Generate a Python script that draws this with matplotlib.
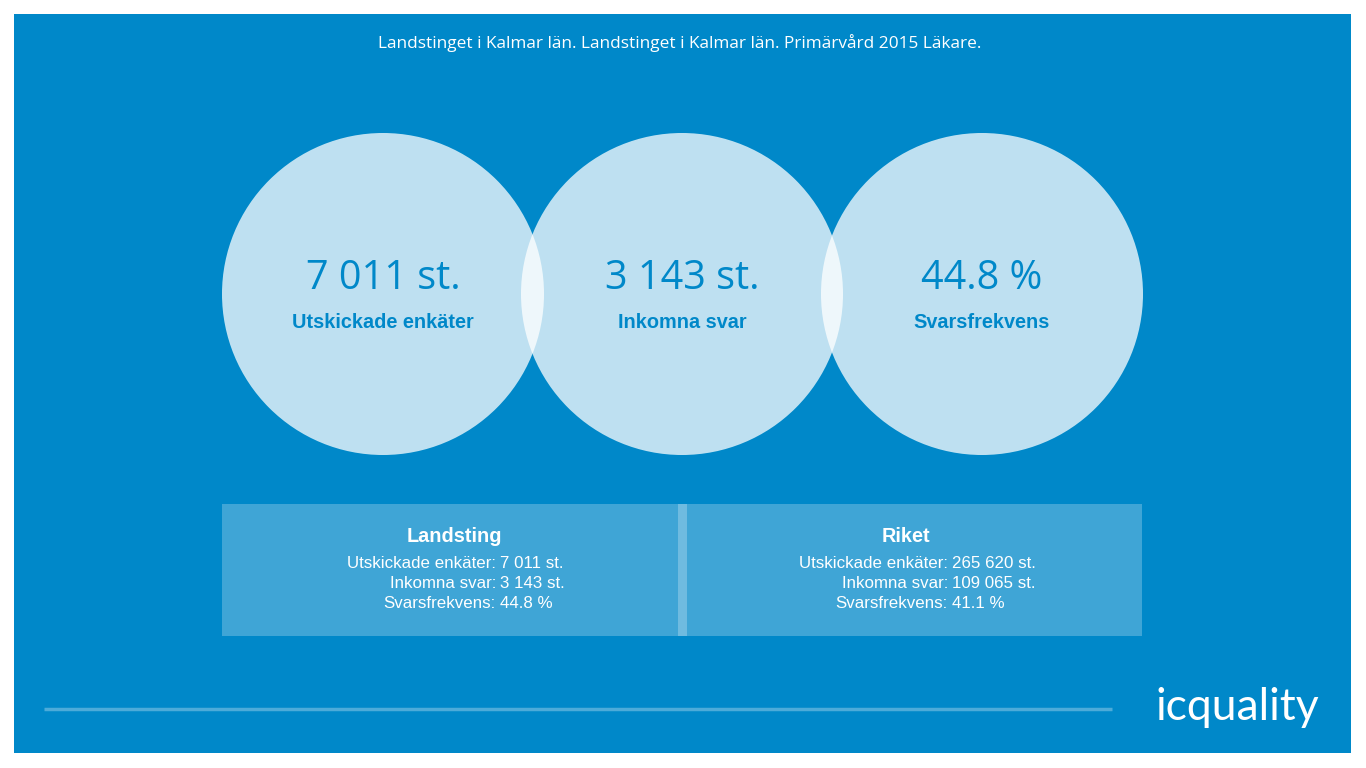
import matplotlib
matplotlib.use("Agg")
import matplotlib.pyplot as plt
from matplotlib.patches import Circle, Rectangle

title = "Landstinget i Kalmar län. Landstinget i Kalmar län. Primärvård 2015 Läkare."
circle_values = ["7 011 st.", "3 143 st.", "44.8 %"]
circle_labels = ["Utskickade enkäter", "Inkomna svar", "Svarsfrekvens"]
box_titles = ["Landsting", "Riket"]
row_labels = ["Utskickade enkäter:", "Inkomna svar:", "Svarsfrekvens:"]
box_values = [["7 011 st.", "3 143 st.", "44.8 %"],
              ["265 620 st.", "109 065 st.", "41.1 %"]]

BLUE = "#0088C9"
W, H = 1366, 768
fig = plt.figure(figsize=(W / 100, H / 100), dpi=100)
fig.patch.set_facecolor("white")
ax = fig.add_axes([0, 0, 1, 1])
ax.set_xlim(0, W)
ax.set_ylim(H, 0)
ax.axis("off")

ax.add_patch(Rectangle((14, 14), 1337, 739, facecolor=BLUE, edgecolor="none"))
ax.text(680, 43, title, color="white", fontsize=12.4, ha="center", va="center",
        family="Open Sans")

cx = [383, 682, 982]
for x, v, l in zip(cx, circle_values, circle_labels):
    ax.add_patch(Circle((x, 294), 161, facecolor="white", alpha=0.75, edgecolor="none"))
    ax.text(x, 279, v, color=BLUE, fontsize=28.5, ha="center", va="center", family="Open Sans")
    ax.text(x, 322, l, color=BLUE, fontsize=14.3, ha="center", va="center",
            family="Liberation Sans", fontweight="bold")

boxes = [(222, 687), (678, 1142)]
colon_x = [496, 948]
for (x0, x1), bt, vals, cxx in zip(boxes, box_titles, box_values, colon_x):
    ax.add_patch(Rectangle((x0, 504), x1 - x0, 132, facecolor="white", alpha=0.25,
                           edgecolor="none"))
    ax.text(cxx - 42, 536, bt, color="white", fontsize=14.3, ha="center", va="center",
            family="Liberation Sans", fontweight="bold")
    for i, (rl, v) in enumerate(zip(row_labels, vals)):
        y = 563 + 20 * i
        ax.text(cxx, y, rl, color="white", fontsize=12.2, ha="right", va="center",
                family="Liberation Sans")
        ax.text(cxx + 4, y, v, color="white", fontsize=12.2, ha="left", va="center",
                family="Liberation Sans")

ax.plot([44, 1112], [709, 709], color="white", alpha=0.3, lw=2.5, solid_capstyle="butt")
ax.text(1237, 707, "icquality", color="white", fontsize=32, ha="center", va="center",
        family="Lato", fontweight="normal")

fig.savefig("out.png", dpi=100, facecolor=fig.get_facecolor())
